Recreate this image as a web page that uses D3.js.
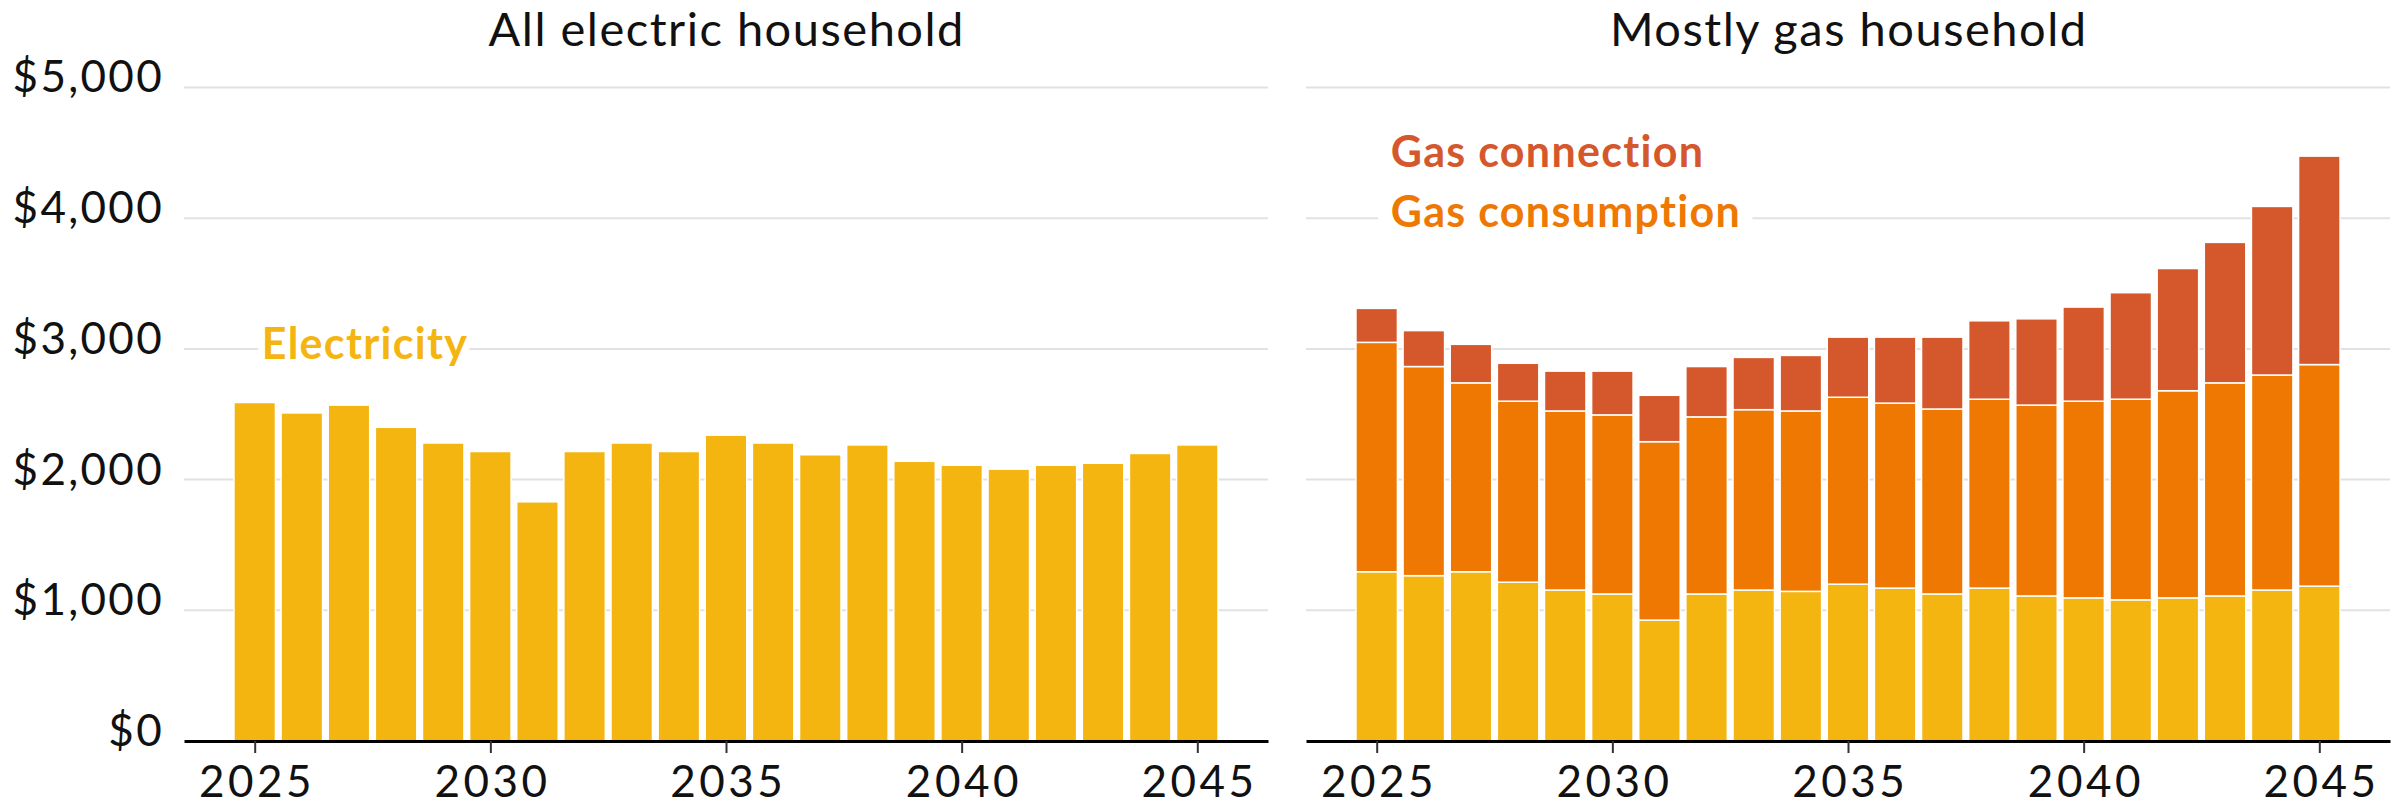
<!DOCTYPE html>
<html>
<head>
<meta charset="utf-8">
<script src="https://cdn.jsdelivr.net/npm/d3@7"></script>
<style>
body { margin: 0; background: #fff; }
text { font-family: Lato, 'Noto Sans', sans-serif; }
</style>
</head>
<body>
<div id="container"></div>
<script>
//DATA
const years = d3.range(2025, 2046)
const allElectric = [2590, 2510, 2570, 2400, 2280, 2215, 1830, 2215, 2280, 2215, 2340,
    2280, 2190, 2265, 2140, 2110, 2080, 2110, 2125, 2200, 2265]
const gasElectricity = [1295, 1265, 1295, 1215, 1155, 1125, 925, 1125, 1155, 1145, 1200,
    1170, 1125, 1170, 1110, 1095, 1080, 1095, 1110, 1155, 1185]
const gasConsumption = [1755, 1600, 1445, 1385, 1370, 1370, 1365, 1355, 1380, 1380, 1430,
    1415, 1415, 1445, 1460, 1505, 1535, 1585, 1630, 1645, 1695]
const gasConnection = [260, 275, 295, 290, 305, 335, 355, 385, 400, 425, 460,
    505, 550, 600, 660, 720, 815, 935, 1075, 1290, 1595]
const yTicks = [0, 1000, 2000, 3000, 4000, 5000]
const xTicks = [2025, 2030, 2035, 2040, 2045]

const colors = {
    electricity: '#f4b511',
    consumption: '#ee7802',
    connection: '#d5582c'
}

//BOX
const w = 2405
const h = 805
const panelW = 1084
const panels = [
    { x0: 184, title: 'All electric household' },
    { x0: 1306, title: 'Mostly gas household' }
]

//SCALES
const xscale = d3.scaleLinear()
    .domain([2023.5, 2046.5])
    .range([0, panelW])

const yscale = d3.scaleLinear()
    .domain([0, 5000])
    .range([741, 87.5])

const barW = (xscale(1) - xscale(0)) * 0.88

const svg = d3.select('#container')
    .append('svg')
    .attr('width', w)
    .attr('height', h)

const g = panels.map(p => svg.append('g').attr('transform', 'translate(' + p.x0 + ',0)'))

//TITLES
panels.forEach((p, i) => {
    g[i].append('text')
        .attr('x', panelW / 2 + 0.75)
        .attr('y', 46)
        .attr('text-anchor', 'middle')
        .attr('font-size', 47)
        .attr('letter-spacing', 1.5)
        .attr('fill', '#111')
        .text(p.title)
})

//GRIDLINES
g.forEach(gg => {
    gg.append('g')
        .selectAll('line')
        .data(yTicks.filter(d => d > 0))
        .enter()
        .append('line')
        .attr('x1', 0)
        .attr('x2', panelW)
        .attr('y1', d => yscale(d))
        .attr('y2', d => yscale(d))
        .attr('stroke', '#e2e2e2')
        .attr('stroke-width', 2)
})

//Y LABELS (left panel only)
const yaxis = d3.axisLeft(yscale)
    .tickValues(yTicks)
    .tickSize(0)
    .tickPadding(20)
    .tickFormat(d => '$' + d3.format(',')(d))

g[0].append('g')
    .call(yaxis)
    .call(a => a.select('.domain').remove())
    .call(a => a.selectAll('text')
        .attr('font-family', 'Lato, sans-serif')
        .attr('font-size', 44)
        .attr('letter-spacing', 2.3)
        .attr('fill', '#111')
        .attr('dy', '0.1em'))

//LEFT BARS
g[0].append('g')
    .selectAll('rect')
    .data(allElectric)
    .enter()
    .append('rect')
    .attr('x', (d, i) => xscale(years[i]) - barW / 2)
    .attr('width', barW)
    .attr('y', d => yscale(d))
    .attr('height', d => yscale(0) - yscale(d))
    .attr('fill', colors.electricity)
    .attr('stroke', '#fff')
    .attr('stroke-width', 1.5)

//RIGHT STACKED BARS
const gasTable = years.map((y, i) => ({
    year: y,
    electricity: gasElectricity[i],
    consumption: gasConsumption[i],
    connection: gasConnection[i]
}))
const series = d3.stack().keys(['electricity', 'consumption', 'connection'])(gasTable)

g[1].append('g')
    .selectAll('g')
    .data(series)
    .enter()
    .append('g')
    .attr('fill', d => colors[d.key])
    .selectAll('rect')
    .data(d => d)
    .enter()
    .append('rect')
    .attr('x', d => xscale(d.data.year) - barW / 2)
    .attr('width', barW)
    .attr('y', d => yscale(d[1]))
    .attr('height', d => yscale(d[0]) - yscale(d[1]))
    .attr('stroke', '#fff')
    .attr('stroke-width', 1.5)

//LABELS
function label(gg, x, y, txt, col, halo) {
    gg.append('text')
        .attr('x', x)
        .attr('y', y)
        .attr('font-size', 43)
        .attr('font-weight', 'bold')
        .attr('letter-spacing', 1.3)
        .attr('fill', col)
        .attr('stroke', '#fff')
        .attr('stroke-width', halo)
        .attr('paint-order', 'stroke')
        .attr('stroke-linejoin', 'round')
        .text(txt)
}
label(g[0], xscale(2025) + 7, 359, 'Electricity', colors.electricity, 14)
label(g[1], xscale(2025) + 14, 167, 'Gas connection', colors.connection, 30)
label(g[1], xscale(2025) + 14, 227, 'Gas consumption', colors.consumption, 30)

//X AXES
const xaxis = d3.axisBottom(xscale)
    .tickValues(xTicks)
    .tickSize(12)
    .tickSizeOuter(0)
    .tickPadding(13)
    .tickFormat(d3.format('d'))

g.forEach(gg => {
    gg.append('g')
        .attr('transform', 'translate(0,' + yscale(0) + ')')
        .call(xaxis)
        .call(a => a.select('.domain').attr('stroke', '#000').attr('stroke-width', 3))
        .call(a => a.selectAll('.tick line').attr('stroke', '#333').attr('stroke-width', 2))
        .call(a => a.selectAll('text')
            .attr('font-family', 'Lato, sans-serif')
            .attr('font-size', 44)
            .attr('letter-spacing', 3.5)
            .attr('x', 1.75)
            .attr('fill', '#111'))
})
</script>
</body>
</html>
